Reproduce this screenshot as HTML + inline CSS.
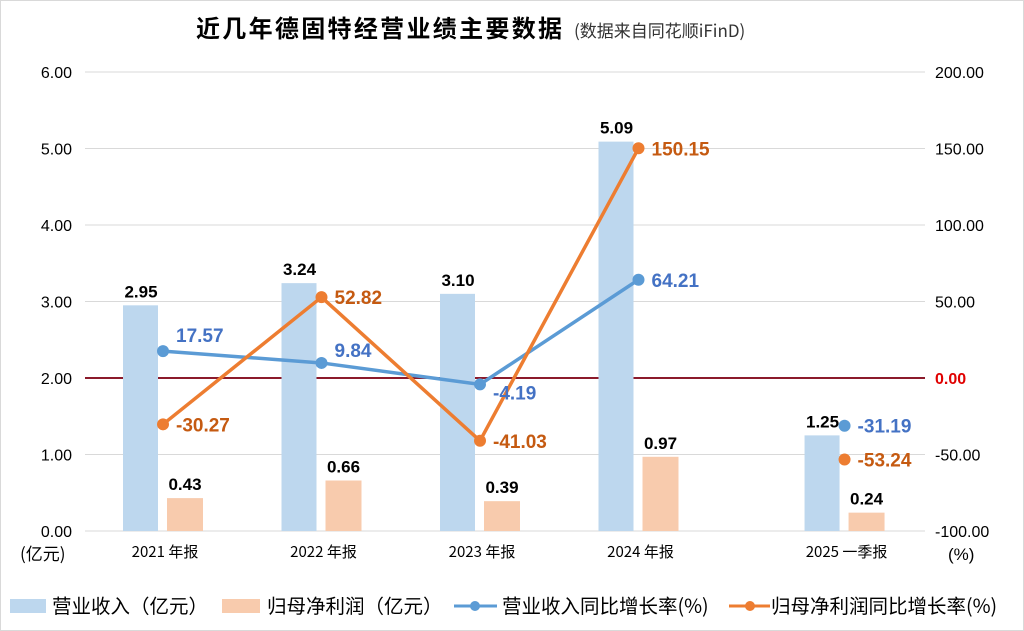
<!DOCTYPE html>
<html><head><meta charset="utf-8"><style>
body{margin:0;background:#fff}
svg{display:block;font-family:"Liberation Sans","Noto Sans CJK SC",sans-serif}
</style></head><body>
<svg id="c" width="1024" height="631" viewBox="0 0 1024 631">
<rect x="0.5" y="0.5" width="1023" height="630" fill="#fff" stroke="#d9d9d9"/>
<text x="196" y="37" font-size="24" font-weight="bold" font-family="Noto Sans CJK SC,sans-serif" textLength="366">近几年德固特经营业绩主要数据</text>
<text x="574" y="37" font-size="17" fill="#333" font-family="Noto Sans CJK SC,sans-serif">(数据来自同花顺iFinD)</text>
<g id="grid"></g><g id="bars"></g><g id="lines"></g><g id="labels"></g>
<text x="20" y="560" font-size="17" font-family="Noto Sans CJK SC,sans-serif">(亿元)</text>
<text x="948" y="560" font-size="17">(%)</text>
<g font-size="19.5" font-family="Noto Sans CJK SC,sans-serif">
<rect x="10" y="599" width="36" height="14" fill="#bdd7ee"/>
<text x="52" y="613">营业收入（亿元）</text>
<rect x="222" y="599" width="38" height="14" fill="#f8cbad"/>
<text x="267" y="613">归母净利润（亿元）</text>
<line x1="454" y1="606" x2="497" y2="606" stroke="#5b9bd5" stroke-width="3"/>
<circle cx="475" cy="606" r="5" fill="#5b9bd5"/>
<text x="502" y="613">营业收入同比增长率(%)</text>
<line x1="729" y1="606" x2="770" y2="606" stroke="#ed7d31" stroke-width="3"/>
<circle cx="750" cy="606" r="5" fill="#ed7d31"/>
<text x="771" y="613">归母净利润同比增长率(%)</text>
</g>
</svg>
<script>
const categories=["2021 年报","2022 年报","2023 年报","2024 年报","2025 一季报"];
const catPos=[0,1,2,3,4.3];
const revenue=[2.95,3.24,3.10,5.09,1.25];
const profit=[0.43,0.66,0.39,0.97,0.24];
const revGrowth=[17.57,9.84,-4.19,64.21,-31.19];
const profitGrowth=[-30.27,52.82,-41.03,150.15,-53.24];
const leftTicks=["0.00","1.00","2.00","3.00","4.00","5.00","6.00"];
const rightTicks=["-100.00","-50.00","0.00","50.00","100.00","150.00","200.00"];
const NS="http://www.w3.org/2000/svg";
const yL=v=>531-v*76.5;
const yR=v=>378-v*(459/300);
const xC=i=>163+catPos[i]*158.5;
function mk(p,t,a){const e=document.createElementNS(NS,t);for(const k in a)e.setAttribute(k,a[k]);document.getElementById(p).appendChild(e);return e;}
leftTicks.forEach((t,i)=>{
 const y=yL(+t);
 const g=mk('grid','line',{x1:85,x2:925,y1:y,y2:y,stroke:'#d9d9d9'});
 
 
 const l=mk('grid','text',{x:72,y:y+6,'font-size':16,'text-anchor':'end'});l.textContent=t;
 
 
});
rightTicks.forEach(t=>{
 const y=yR(+t);
 const l=mk('grid','text',{x:935,y:y+6,'font-size':16,fill:+t===0?'#e00000':'#000','font-weight':+t===0?'bold':'normal'});l.textContent=t;
 
 
});
const z=mk('grid','line',{x1:85,x2:925,y1:yR(0),y2:yR(0),stroke:'#8b1a2b','stroke-width':2});


categories.forEach((c,i)=>{
 const l=mk('labels','text',{x:xC(i)+2,y:557,'font-size':15,'text-anchor':'middle','font-family':'Noto Sans CJK SC,sans-serif'});l.textContent=c;
 
 
 const b=mk('bars','rect',{x:xC(i)-40,y:yL(revenue[i]),width:35,height:531-yL(revenue[i]),fill:'#bdd7ee'});
 
 
 const p=mk('bars','rect',{x:xC(i)+4,y:yL(profit[i]),width:36,height:531-yL(profit[i]),fill:'#f8cbad'});
 
 
 const t1=mk('labels','text',{x:xC(i)-22,y:yL(revenue[i])-8,'font-size':17,'font-weight':'bold','text-anchor':'middle'});t1.textContent=revenue[i].toFixed(2);
 
 
 const t2=mk('labels','text',{x:xC(i)+22,y:yL(profit[i])-8,'font-size':17,'font-weight':'bold','text-anchor':'middle'});t2.textContent=profit[i].toFixed(2);
 
 
});
function series(vals,color,lc,name,dys){
 for(let i=0;i+1<vals.length;i++){
  if(catPos[i+1]-catPos[i]!==1)continue;
  const s=mk('lines','line',{x1:xC(i),y1:yR(vals[i]),x2:xC(i+1),y2:yR(vals[i+1]),stroke:color,'stroke-width':3.5,'stroke-linecap':'round'});
  
  
 }
 vals.forEach((v,i)=>{
  const c=mk('lines','circle',{cx:xC(i),cy:yR(v),r:6,fill:color});
  
  
  const t=mk('labels','text',{x:xC(i)+13,y:yR(v)+7+dys[i],'font-size':19,'font-weight':'bold',fill:lc});t.textContent=v.toFixed(2);
  
  
 });
}
series(revGrowth,'#5b9bd5','#4472c4','revenue-growth',[-16,-13,8,0,0]);
series(profitGrowth,'#ed7d31','#c55a11','profit-growth',[0,0,0,0,0]);
</script>
</body></html>
